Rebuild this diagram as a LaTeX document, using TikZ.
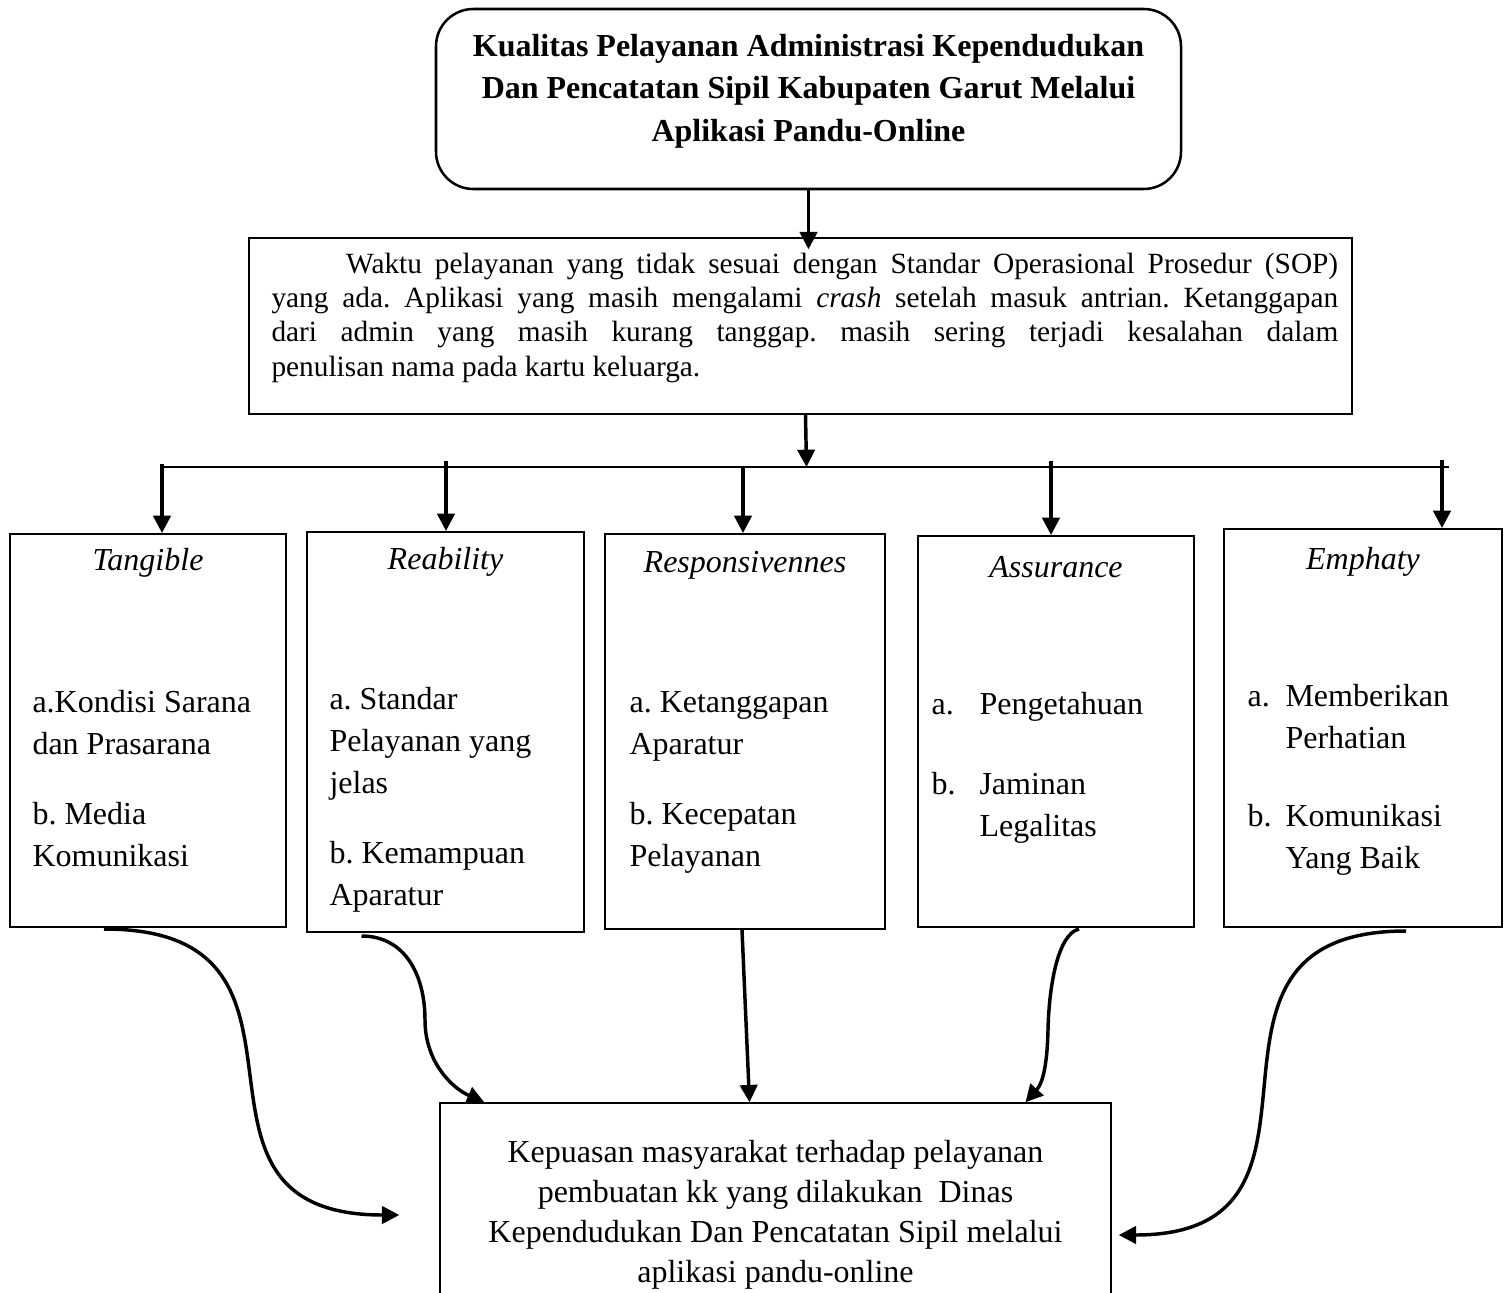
\documentclass[tikz,border=0pt]{standalone}
\usepackage{fontspec}
\setmainfont{Liberation Serif}
\usepackage{tikz}
\usetikzlibrary{arrows.meta,calc}

\begin{document}
\frenchspacing
\begin{tikzpicture}[x=0.375pt,y=-0.375pt]

        \edef\satu{0.375pt}
        \tikzstyle{kotak}=[draw,line width=0.75pt,inner sep=0pt]
        \tikzstyle{judul}=[anchor=base,inner sep=0pt,font=\fontsize{12}{14}\selectfont\itshape]
        \tikzstyle{daftar}=[anchor=base west,inner sep=0pt,font=\fontsize{12}{15.75}\selectfont]
        \tikzstyle{panah}=[line width=1.3pt,-{Triangle[length=6.5pt,width=6.5pt]}]

        \useasboundingbox (0,0) rectangle (1509,1292);

        %% Judul penelitian
        \node[kotak,line width=0.95pt,rounded corners=14pt,minimum width=745*\satu,minimum height=180*\satu] (atas) at (808.5,99) {};
        \node[anchor=base,inner sep=0pt,font=\fontsize{12}{16}\selectfont\bfseries] (judulAtas) at (808.5,56)
            {\begin{tabular}[t]{@{}c@{}}Kualitas Pelayanan Administrasi Kependudukan\\Dan Pencatatan Sipil Kabupaten Garut Melalui\\Aplikasi Pandu-Online\end{tabular}};

        %% Masalah
        \node[kotak,line width=0.55pt,minimum width=1103*\satu,minimum height=176*\satu] (masalah) at (800.5,326) {};
        \node[anchor=base west,inner sep=0pt,font=\fontsize{11}{12.9}\selectfont] (teksMasalah) at (271,273)
            {\begin{tabular}[t]{@{}p{400pt}@{}}\hspace*{28pt}Waktu pelayanan yang tidak sesuai dengan Standar Operasional Prosedur (SOP)\linebreak
            yang ada. Aplikasi yang masih mengalami \textit{crash} setelah masuk antrian. Ketanggapan\linebreak
            dari admin yang masih kurang tanggap. masih sering terjadi kesalahan dalam\linebreak
            penulisan nama pada kartu keluarga.\end{tabular}};

        \draw[panah,shorten >=-4.5pt] (atas.south) -- (atas.south |- masalah.north);

        %% Garis cabang
        \coordinate (garisKiri) at (162,467);
        \coordinate (garisKanan) at (1449,467);
        \draw[line width=0.55pt] (garisKiri) -- (garisKanan);
        \draw[panah] ($(masalah.south)+(5,0)$) -- ($(masalah.south |- garisKiri)+(6,0)$);

        %% Dimensi
        \node[kotak,minimum width=276*\satu,minimum height=393*\satu] (tangible) at (148,730.5) {};
        \node[kotak,minimum width=277*\satu,minimum height=400*\satu] (reability) at (445.5,732) {};
        \node[kotak,minimum width=280*\satu,minimum height=395*\satu] (responsivennes) at (745,731.5) {};
        \node[kotak,minimum width=276*\satu,minimum height=391*\satu] (assurance) at (1056,731.5) {};
        \node[kotak,minimum width=278*\satu,minimum height=398*\satu] (emphaty) at (1363,728) {};

        \node[judul] (jTangible) at (148,570) {Tangible};
        \node[judul] (jReability) at (445.5,569) {Reability};
        \node[judul] (jResponsivennes) at (745,572) {Responsivennes};
        \node[judul] (jAssurance) at (1056,577) {Assurance};
        \node[judul] (jEmphaty) at (1363,569) {Emphaty};

        \node[daftar] (iTangible) at (32,712)
            {\begin{tabular}[t]{@{}l@{}}a.Kondisi Sarana\\dan Prasarana\\[10.5pt]b. Media\\Komunikasi\end{tabular}};
        \node[daftar] (iReability) at (329,709)
            {\begin{tabular}[t]{@{}l@{}}a. Standar\\Pelayanan yang\\jelas\\[10.5pt]b. Kemampuan\\Aparatur\end{tabular}};
        \node[daftar] (iResponsivennes) at (629,712)
            {\begin{tabular}[t]{@{}l@{}}a. Ketanggapan\\Aparatur\\[10.5pt]b. Kecepatan\\Pelayanan\end{tabular}};
        \node[daftar] (iAssurance) at (931,714)
            {\begin{tabular}[t]{@{}p{18pt}@{}l@{}}a. & Pengetahuan\\[14.25pt]b. & Jaminan\\ & Legalitas\end{tabular}};
        \node[daftar] (iEmphaty) at (1247,706)
            {\begin{tabular}[t]{@{}p{14.25pt}@{}l@{}}a. & Memberikan\\ & Perhatian\\[13.5pt]b. & Komunikasi\\ & Yang Baik\end{tabular}};

        \coordinate (c1) at (162,464);
        \coordinate (c2) at (446,461);
        \coordinate (c3) at (743,467);
        \coordinate (c4) at (1051,461);
        \coordinate (c5) at (1442,460);
        \draw[panah] (c1) -- (c1 |- tangible.north);
        \draw[panah] (c2) -- (c2 |- reability.north);
        \draw[panah] (c3) -- (c3 |- responsivennes.north);
        \draw[panah] (c4) -- (c4 |- assurance.north);
        \draw[panah] (c5) -- (c5 |- emphaty.north);

        %% Kepuasan masyarakat
        \node[kotak,line width=0.55pt,minimum width=671*\satu,minimum height=240*\satu] (hasil) at (775.5,1223) {};
        \node[anchor=base,inner sep=0pt,font=\fontsize{12}{15}\selectfont] (teksHasil) at (775.5,1162)
            {\begin{tabular}[t]{@{}c@{}}Kepuasan masyarakat terhadap pelayanan\\pembuatan kk yang dilakukan\ \ Dinas\\Kependudukan Dan Pencatatan Sipil melalui\\aplikasi pandu-online\end{tabular}};

        \coordinate (ujungKiri) at ($(hasil.west)+(-40,-8)$);
        \coordinate (ujungKanan) at ($(hasil.east)+(7,12)$);

        \draw[panah] ($(tangible.south)+(-44,1)$) .. controls +(250,0) and +(-250,0) .. (ujungKiri);
        \draw[panah] ($(reability.south)+(-84,3)$) .. controls (405,936) and (425,975) .. (425,1020)
            .. controls (425,1062) and (452,1088) .. ($(hasil.north west)+(45,0)$);
        \draw[panah] ($(responsivennes.south)+(-3,0)$) -- ($(hasil.north)+(-26,0)$);
        \draw[panah] ($(assurance.south)+(23,1)$) .. controls (1058,934) and (1049,985) .. (1048,1030)
            .. controls (1047,1072) and (1041,1085) .. ($(hasil.north)+(250,0)$);
        \draw[panah] ($(emphaty.south)+(43,3)$) .. controls +(-250,0) and +(250,0) .. (ujungKanan);

\end{tikzpicture}
\end{document}
